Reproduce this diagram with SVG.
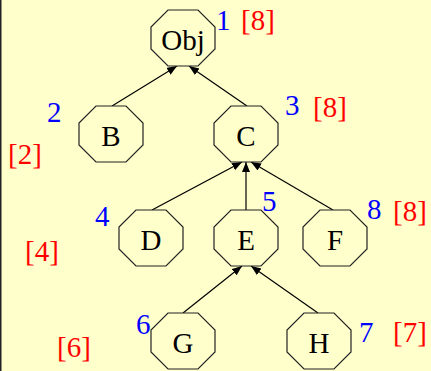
<svg xmlns="http://www.w3.org/2000/svg" width="431" height="371" viewBox="0 0 431 371">
<defs>
<style>
.n{fill:#ffffcc;stroke:#222;stroke-width:1.2}
text{font-family:"Liberation Serif",serif;font-size:29px}
.lbl{text-anchor:middle;fill:#000}
.b{fill:#0000ff}
.r{fill:#ff0000}
.e{stroke:#000;stroke-width:1.2;fill:none;marker-end:url(#ah)}
</style>
<marker id="ah" markerUnits="userSpaceOnUse" markerWidth="12" markerHeight="10" refX="10" refY="4" orient="auto">
<path d="M0,0 L10,4 L0,8 Z" fill="#000"/>
</marker>
<polygon id="oct" points="-15,-28 15,-28 32,-11 32,11 15,28 -15,28 -32,11 -32,-11"/>
</defs>
<rect x="0" y="0" width="431" height="371" fill="#ffffcc"/>
<rect x="0" y="0" width="1.5" height="371" fill="#222"/>
<g id="connectors">
<line class="e" x1="112" y1="106" x2="177" y2="66"/>
<line class="e" x1="247" y1="106" x2="189" y2="66"/>
<line class="e" x1="152" y1="210" x2="242" y2="162"/>
<line class="e" x1="246" y1="210" x2="246" y2="162"/>
<line class="e" x1="333" y1="210" x2="251" y2="162"/>
<line class="e" x1="183" y1="313" x2="242" y2="266"/>
<line class="e" x1="318" y1="313" x2="251" y2="266"/>
</g>
<g id="node-Obj"><use href="#oct" class="n" x="183" y="38"/><text class="lbl" x="183" y="50">Obj</text></g>
<g id="node-B"><use href="#oct" class="n" x="111" y="134"/><text class="lbl" x="111" y="146">B</text></g>
<g id="node-C"><use href="#oct" class="n" x="246" y="134"/><text class="lbl" x="246" y="146">C</text></g>
<g id="node-D"><use href="#oct" class="n" x="151" y="238"/><text class="lbl" x="151" y="250">D</text></g>
<g id="node-E"><use href="#oct" class="n" x="246" y="238"/><text class="lbl" x="246" y="250">E</text></g>
<g id="node-F"><use href="#oct" class="n" x="335" y="238"/><text class="lbl" x="335" y="250">F</text></g>
<g id="node-G"><use href="#oct" class="n" x="183" y="341"/><text class="lbl" x="183" y="353">G</text></g>
<g id="node-H"><use href="#oct" class="n" x="319" y="341"/><text class="lbl" x="319" y="353">H</text></g>
<g id="labels">
<text class="b" x="216" y="30">1</text>
<text class="r" x="241" y="30">[8]</text>
<text class="b" x="47" y="122">2</text>
<text class="r" x="8" y="164">[2]</text>
<text class="b" x="285" y="115">3</text>
<text class="r" x="313" y="117">[8]</text>
<text class="b" x="95" y="226">4</text>
<text class="r" x="25" y="261">[4]</text>
<text class="b" x="262" y="211">5</text>
<text class="b" x="367" y="219">8</text>
<text class="r" x="393" y="221">[8]</text>
<text class="b" x="136" y="334">6</text>
<text class="r" x="57" y="357">[6]</text>
<text class="b" x="359" y="342">7</text>
<text class="r" x="393" y="342">[7]</text>
</g>
</svg>
